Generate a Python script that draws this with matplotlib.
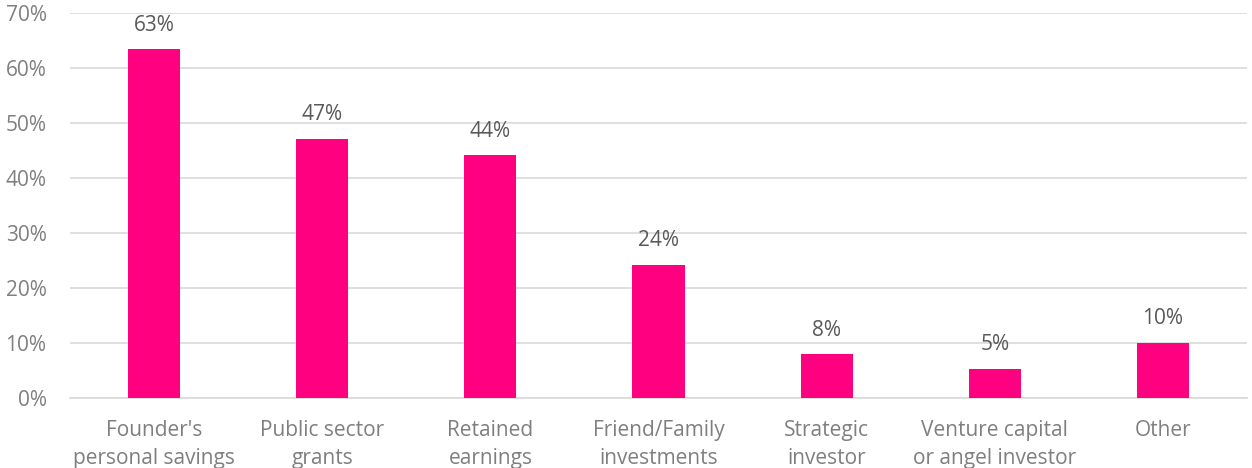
import matplotlib.pyplot as plt
import numpy as np

plt.rcParams['font.family'] = ['Open Sans', 'DejaVu Sans']

# Data
categories = ["Founder's\npersonal savings", "Public sector\ngrants", "Retained\nearnings",
              "Friend/Family\ninvestments", "Strategic\ninvestor", "Venture capital\nor angel investor",
              "Other"]
shares = [63.4, 47.1, 44.1, 24.2, 7.9, 5.3, 10.0]
yticks = [0, 10, 20, 30, 40, 50, 60, 70]

fig = plt.figure(figsize=(12.52, 4.68), dpi=100)
ax = fig.add_axes([0.056, 0.150, 0.940, 0.822])

x = np.arange(len(categories))
ax.bar(x, shares, width=0.31, color='#FF0080', zorder=3)

for xi, v in zip(x, shares):
    ax.text(xi, v + 2.5, f'{v:.0f}%', ha='center', va='bottom', fontsize=15, color='#595959')

ax.set_xlim(-0.5, len(categories) - 0.5)
ax.set_ylim(0, 70)
ax.set_yticks(yticks)
ax.set_yticklabels([f'{t}%' for t in yticks])
ax.set_xticks(x)
ax.set_xticklabels(categories, linespacing=1.45)
ax.tick_params(axis='both', length=0, labelsize=15, labelcolor='#7F7F7F')
ax.tick_params(axis='x', pad=16)
ax.tick_params(axis='y', pad=17)
ax.grid(axis='y', color='#D9D9D9', linewidth=1.2, zorder=0)
for s in ['top', 'right', 'left']:
    ax.spines[s].set_visible(False)
ax.spines['bottom'].set_color('#D9D9D9')
ax.spines['bottom'].set_linewidth(1.2)

fig.savefig('out.png', dpi=100)
